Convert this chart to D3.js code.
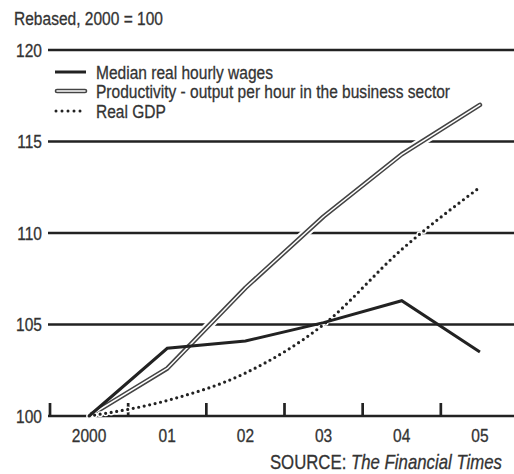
<!DOCTYPE html>
<html>
<head>
<meta charset="utf-8">
<script src="https://cdn.jsdelivr.net/npm/d3@7"></script>
<style>
  html, body { margin: 0; padding: 0; background: #fff; }
  svg { display: block; font-family: "Liberation Sans", Arial, sans-serif; }
</style>
</head>
<body>
<svg id="chart" width="514" height="474"></svg>
<script>
// Index values, rebased so that 2000 = 100
const years = ["2000", "01", "02", "03", "04", "05"];
const wages = [100, 103.7, 104.1, 105.1, 106.3, 103.5];
const productivity = [100, 102.6, 107.0, 110.9, 114.3, 117.0];
const realGDP = [100, 100.85, 102.35, 105.0, 109.1, 112.5];
const yTicks = [100, 105, 110, 115, 120];
const legendLabels = [
  "Median real hourly wages",
  "Productivity - output per hour in the business sector",
  "Real GDP"
];

const svg = d3.select("#chart");
const ink = "#222";
const textInk = "#333";
const fs = 18.5;
const squeeze = 0.84; // condensed lettering

// Places a condensed text label whose vertical centre sits at (px, py)
function label(parent, px, py, str, anchor = "start", size = fs) {
  const g = parent.append("g")
    .attr("transform", `translate(${px},${py}) scale(${squeeze},1)`);
  const t = g.append("text")
    .attr("dy", "0.36em")
    .attr("text-anchor", anchor)
    .attr("font-size", size)
    .attr("fill", textInk)
    .attr("stroke", textInk)
    .attr("stroke-width", 0.3);
  if (str !== null) t.text(str);
  return t;
}

const x = d3.scaleBand().domain(years).range([50, 519]).padding(0);
const xc = d => x(d) + x.bandwidth() / 2;
const y = d3.scaleLinear().domain([100, 120]).range([416, 50]);

// Title
label(svg, 14, 18, "Rebased, 2000 = 100");

// Horizontal rules with value labels
const grid = svg.append("g");
grid.selectAll("line").data(yTicks).join("line")
  .attr("x1", 48).attr("x2", 514)
  .attr("y1", d => y(d)).attr("y2", d => y(d))
  .attr("stroke", ink).attr("stroke-width", 2.7);
yTicks.forEach(v => label(grid, 42, y(v), String(v), "end"));

// Year boundaries on the baseline
const xAxis = d3.axisTop(x).tickSize(0).tickFormat("");
const axisG = svg.append("g").attr("transform", `translate(0,${y(100)})`).call(xAxis);
axisG.select(".domain").remove();
axisG.selectAll("line.bound").data(years).join("line")
  .attr("class", "bound")
  .attr("x1", d => x(d)).attr("x2", d => x(d))
  .attr("y1", 0).attr("y2", -13)
  .attr("stroke", ink).attr("stroke-width", 2.7);
years.forEach(yr => label(axisG, xc(yr), 19, yr, "middle"));

const line = d3.line().x((d, i) => xc(years[i])).y(d => y(d));
const smooth = d3.line().x((d, i) => xc(years[i])).y(d => y(d)).curve(d3.curveMonotoneX);

// Productivity: hollow double line with a white halo over the rules
svg.append("path").attr("d", line(productivity))
  .attr("fill", "none").attr("stroke", "#fff").attr("stroke-width", 9)
  .attr("stroke-linejoin", "round");
svg.append("path").attr("d", line(productivity))
  .attr("fill", "none").attr("stroke", "#444").attr("stroke-width", 4.6)
  .attr("stroke-linejoin", "round").attr("stroke-linecap", "round");
svg.append("path").attr("d", line(productivity))
  .attr("fill", "none").attr("stroke", "#fff").attr("stroke-width", 1.5)
  .attr("stroke-linejoin", "round").attr("stroke-linecap", "round");

// Real GDP: dotted
svg.append("path").attr("d", smooth(realGDP))
  .attr("fill", "none").attr("stroke", "#fff").attr("stroke-width", 6)
  .attr("stroke-dasharray", "0 5.6").attr("stroke-linecap", "round");
svg.append("path").attr("d", smooth(realGDP))
  .attr("fill", "none").attr("stroke", ink).attr("stroke-width", 3.2)
  .attr("stroke-dasharray", "0 5.6").attr("stroke-linecap", "round");

// Median wages: solid
svg.append("path").attr("d", line(wages))
  .attr("fill", "none").attr("stroke", ink).attr("stroke-width", 3)
  .attr("stroke-linejoin", "miter");

// Legend
const lg = svg.append("g");
const rows = [72, 91, 111];
lg.append("line").attr("x1", 55).attr("x2", 86).attr("y1", rows[0]).attr("y2", rows[0])
  .attr("stroke", ink).attr("stroke-width", 3);
lg.append("line").attr("x1", 57).attr("x2", 85).attr("y1", rows[1]).attr("y2", rows[1])
  .attr("stroke", "#444").attr("stroke-width", 4.6).attr("stroke-linecap", "round");
lg.append("line").attr("x1", 57).attr("x2", 85).attr("y1", rows[1]).attr("y2", rows[1])
  .attr("stroke", "#fff").attr("stroke-width", 1.5).attr("stroke-linecap", "round");
lg.append("line").attr("x1", 56).attr("x2", 86).attr("y1", rows[2]).attr("y2", rows[2])
  .attr("stroke", ink).attr("stroke-width", 3).attr("stroke-dasharray", "0 6")
  .attr("stroke-linecap", "round");
legendLabels.forEach((s, i) => label(lg, 96, rows[i], s));

// Source note
const src = label(svg, 502, 462, null, "end", 20);
src.append("tspan").text("SOURCE: ");
src.append("tspan").attr("font-style", "italic").text("The Financial Times");
</script>
</body>
</html>
